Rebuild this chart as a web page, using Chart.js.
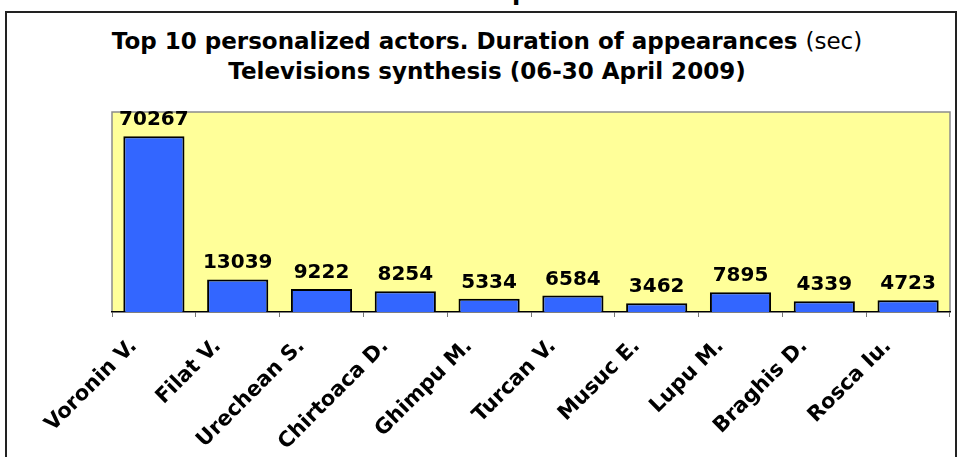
<!DOCTYPE html>
<html>
<head>
    <title>Top 10 personalized actors</title>
    <script src="https://cdn.jsdelivr.net/npm/chart.js"></script>
    <style>
        body {
            margin: 0;
            background: #fff;
            font-family: 'DejaVu Sans', Verdana, sans-serif;
            overflow: hidden;
        }
        #page {
            position: relative;
            width: 957px;
            height: 457px;
        }
        #cut {
            position: absolute;
            left: 0;
            width: 957px;
            top: -22px;
            text-align: center;
            font-weight: bold;
            font-size: 24px;
            padding-left: 84px;
            box-sizing: border-box;
        }
        #frame {
            position: absolute;
            left: 5px;
            top: 11px;
            width: 948px;
            height: 460px;
            border: 2px solid #222;
        }
        #title {
            position: absolute;
            left: 0;
            top: 26px;
            width: 974px;
            text-align: center;
            font-size: 23px;
            font-weight: bold;
            line-height: 30px;
            color: #000;
            white-space: nowrap;
        }
        #title span {
            font-weight: normal;
        }
        #chartBox {
            position: absolute;
            left: 0;
            top: 0;
            width: 957px;
            height: 457px;
        }
    </style>
</head>
<body>
<div id="page">
    <div id="cut">p</div>
    <div id="frame"></div>
    <div id="title">
        Top 10 personalized actors. Duration of appearances <span>(sec)</span><br>
        Televisions synthesis (06-30 April 2009)
    </div>
    <div id="chartBox"><canvas id="chart"></canvas></div>
</div>

<script>
    // actors and seconds on screen
    var actors = ['Voronin V.', 'Filat V.', 'Urechean S.', 'Chirtoaca D.', 'Ghimpu M.',
                  'Turcan V.', 'Musuc E.', 'Lupu M.', 'Braghis D.', 'Rosca Iu.'];
    var seconds = [70267, 13039, 9222, 8254, 5334, 6584, 3462, 7895, 4339, 4723];
    var yMax = 80000;

    // yellow plot area with grey frame
    var plotBackground = {
        id: 'plotBackground',
        beforeDraw: function(chart) {
            var ctx = chart.ctx;
            var a = chart.chartArea;
            ctx.save();
            ctx.fillStyle = '#FFFF99';
            ctx.fillRect(a.left, a.top, a.right - a.left, a.bottom - a.top);
            ctx.strokeStyle = '#8c8c8c';
            ctx.lineWidth = 1.5;
            ctx.beginPath();
            ctx.moveTo(a.left, a.bottom);
            ctx.lineTo(a.left, a.top);
            ctx.lineTo(a.right, a.top);
            ctx.lineTo(a.right, a.bottom);
            ctx.stroke();
            ctx.restore();
        }
    };

    // value labels above bars
    var valueLabels = {
        id: 'valueLabels',
        afterDatasetsDraw: function(chart) {
            var ctx = chart.ctx;
            var meta = chart.getDatasetMeta(0);
            ctx.save();
            ctx.font = 'bold 20px "DejaVu Sans"';
            ctx.fillStyle = '#000';
            ctx.textAlign = 'center';
            ctx.textBaseline = 'alphabetic';
            meta.data.forEach(function(bar, i) {
                ctx.fillText(seconds[i], bar.x, bar.y - 11);
            });
            ctx.restore();
        }
    };

    var ctx = document.getElementById('chart').getContext('2d');
    var chart = new Chart(ctx, {
        type: 'bar',
        data: {
            labels: actors,
            datasets: [{
                data: seconds,
                backgroundColor: '#3366FF',
                borderColor: '#000',
                borderWidth: 2,
                barPercentage: 0.73,
                categoryPercentage: 1
            }]
        },
        options: {
            responsive: true,
            maintainAspectRatio: false,
            animation: false,
            layout: {
                padding: { left: 112, right: 7, top: 112, bottom: 0 }
            },
            plugins: {
                legend: { display: false },
                tooltip: { enabled: false }
            },
            scales: {
                x: {
                    offset: true,
                    grid: {
                        display: true,
                        offset: true,
                        drawOnChartArea: false,
                        drawTicks: true,
                        tickLength: 5,
                        color: '#777'
                    },
                    border: { display: true, color: '#000', width: 1.5 },
                    ticks: {
                        autoSkip: false,
                        minRotation: 45,
                        maxRotation: 45,
                        labelOffset: -20,
                        padding: 17,
                        color: '#000',
                        font: { family: 'DejaVu Sans', size: 21, weight: 'bold' }
                    },
                    afterFit: function(scale) { scale.height = 145; }
                },
                y: {
                    display: false,
                    min: 0,
                    max: yMax
                }
            }
        },
        plugins: [plotBackground, valueLabels]
    });
</script>
</body>
</html>
